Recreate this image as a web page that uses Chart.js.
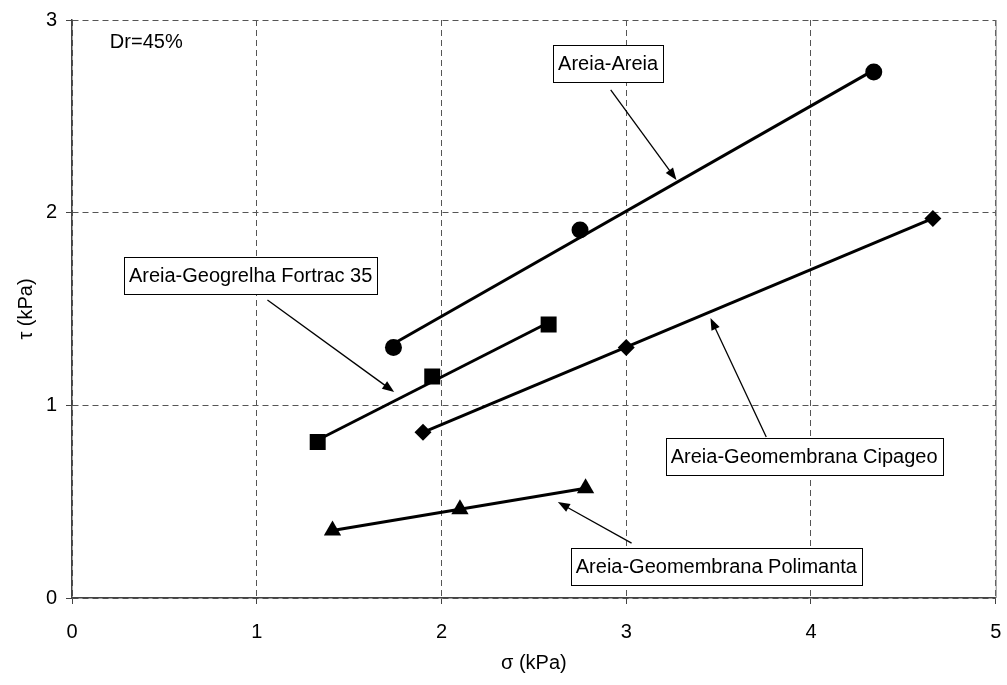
<!DOCTYPE html>
<html>
<head>
<meta charset="utf-8">
<script src="https://cdn.jsdelivr.net/npm/chart.js@4/dist/chart.umd.min.js"></script>
<style>
    body { margin: 0; background: #fff; }
    #wrap { width: 1007px; height: 685px; }
</style>
</head>
<body>
<div id="wrap"><canvas id="tauChart" width="1007" height="685"></canvas></div>
<script>
// pontos medidos (sigma, tau) em kPa
const areiaSigma = [1.74, 2.75, 4.34];
const areiaTau = [1.30, 1.91, 2.73];
const fortracSigma = [1.33, 1.95, 2.58];
const fortracTau = [0.81, 1.15, 1.42];
const cipageoSigma = [1.90, 3.00, 4.66];
const cipageoTau = [0.86, 1.30, 1.97];
const polimantaSigma = [1.41, 2.10, 2.78];
const polimantaTau = [0.35, 0.46, 0.57];

// linhas de tendencia (extremos)
const areiaFitSigma = [1.74, 4.34];
const areiaFitTau = [1.32, 2.74];
const fortracFitSigma = [1.33, 2.58];
const fortracFitTau = [0.82, 1.43];
const cipageoFitSigma = [1.90, 4.66];
const cipageoFitTau = [0.86, 1.97];
const polimantaFitSigma = [1.41, 2.78];
const polimantaFitTau = [0.35, 0.57];

const xTicks = [0, 1, 2, 3, 4, 5];
const yTicks = [0, 1, 2, 3];

const FONT = "'Liberation Sans', Arial, sans-serif";

function pts(xs, ys) {
    return xs.map((x, i) => ({ x: x, y: ys[i] }));
}

function markerSet(label, xs, ys, style, radius) {
    return {
        label: label,
        data: pts(xs, ys),
        showLine: false,
        pointStyle: style,
        pointRadius: radius,
        pointHoverRadius: radius,
        pointBackgroundColor: '#000',
        pointBorderColor: '#000',
        pointBorderWidth: 0,
        order: 0
    };
}

function fitSet(label, xs, ys) {
    return {
        label: label,
        data: pts(xs, ys),
        showLine: true,
        borderColor: '#000',
        borderWidth: 3,
        pointRadius: 0,
        fill: false,
        order: 1
    };
}

// caixas de texto com setas (posicoes em unidades do grafico)
const notes = [
    { text: 'Areia-Areia', cx: 2.902, cy: 2.772, from: [2.916, 2.637], to: [3.272, 2.170] },
    { text: 'Areia-Geogrelha Fortrac 35', cx: 0.967, cy: 1.674, from: [1.058, 1.547], to: [1.744, 1.069] },
    { text: 'Areia-Geomembrana Cipageo', cx: 3.963, cy: 0.734, from: [3.758, 0.836], to: [3.456, 1.453] },
    { text: 'Areia-Geomembrana Polimanta', cx: 3.488, cy: 0.166, from: [3.029, 0.285], to: [2.630, 0.498] }
];

const notesPlugin = {
    id: 'notes',
    afterDatasetsDraw(chart) {
        const ctx = chart.ctx;
        const xs = chart.scales.x, ys = chart.scales.y;
        const area = chart.chartArea;
        ctx.save();
        // borda direita continua
        ctx.strokeStyle = '#888';
        ctx.lineWidth = 1;
        ctx.beginPath();
        ctx.moveTo(area.right + 0.5, area.top);
        ctx.lineTo(area.right + 0.5, area.bottom);
        ctx.stroke();

        ctx.font = '20px ' + FONT;
        ctx.fillStyle = '#000';
        ctx.textBaseline = 'middle';
        ctx.textAlign = 'left';
        ctx.fillText('Dr=45%', xs.getPixelForValue(0.205), ys.getPixelForValue(2.881));

        notes.forEach(n => {
            const x1 = xs.getPixelForValue(n.from[0]), y1 = ys.getPixelForValue(n.from[1]);
            const x2 = xs.getPixelForValue(n.to[0]), y2 = ys.getPixelForValue(n.to[1]);
            const ang = Math.atan2(y2 - y1, x2 - x1);
            const head = 12, half = 4.5;
            ctx.strokeStyle = '#000';
            ctx.lineWidth = 1.3;
            ctx.beginPath();
            ctx.moveTo(x1, y1);
            ctx.lineTo(x2 - Math.cos(ang) * head * 0.8, y2 - Math.sin(ang) * head * 0.8);
            ctx.stroke();
            ctx.beginPath();
            ctx.moveTo(x2, y2);
            ctx.lineTo(x2 - Math.cos(ang) * head - Math.sin(ang) * half, y2 - Math.sin(ang) * head + Math.cos(ang) * half);
            ctx.lineTo(x2 - Math.cos(ang) * head + Math.sin(ang) * half, y2 - Math.sin(ang) * head - Math.cos(ang) * half);
            ctx.closePath();
            ctx.fillStyle = '#000';
            ctx.fill();

            const cx = xs.getPixelForValue(n.cx), cy = ys.getPixelForValue(n.cy);
            const w = ctx.measureText(n.text).width + 10, h = 37;
            ctx.fillStyle = '#fff';
            ctx.fillRect(Math.round(cx - w / 2), Math.round(cy - h / 2), Math.round(w), h);
            ctx.strokeStyle = '#000';
            ctx.lineWidth = 1;
            ctx.strokeRect(Math.round(cx - w / 2) + 0.5, Math.round(cy - h / 2) + 0.5, Math.round(w), h);
            ctx.fillStyle = '#000';
            ctx.textAlign = 'center';
            ctx.fillText(n.text, cx, cy + 1);
        });
        ctx.restore();
    }
};

const ctx = document.getElementById('tauChart').getContext('2d');
new Chart(ctx, {
    type: 'scatter',
    data: {
        datasets: [
            markerSet('Areia-Areia', areiaSigma, areiaTau, 'circle', 8.5),
            markerSet('Areia-Geogrelha Fortrac 35', fortracSigma, fortracTau, 'rect', 11.3),
            markerSet('Areia-Geomembrana Cipageo', cipageoSigma, cipageoTau, 'rectRot', 8.5),
            markerSet('Areia-Geomembrana Polimanta', polimantaSigma, polimantaTau, 'triangle', 10),
            fitSet('tendencia Areia-Areia', areiaFitSigma, areiaFitTau),
            fitSet('tendencia Fortrac', fortracFitSigma, fortracFitTau),
            fitSet('tendencia Cipageo', cipageoFitSigma, cipageoFitTau),
            fitSet('tendencia Polimanta', polimantaFitSigma, polimantaFitTau)
        ]
    },
    options: {
        responsive: false,
        animation: false,
        layout: { padding: { left: 0, right: 6, top: 20, bottom: 0 } },
        plugins: {
            legend: { display: false },
            tooltip: { enabled: false }
        },
        scales: {
            x: {
                type: 'linear',
                min: 0,
                max: 5,
                afterBuildTicks: scale => { scale.ticks = xTicks.map(v => ({ value: v })); },
                afterFit: scale => {
                    scale.height = 87;
                    scale.paddingLeft = 0;
                    scale.paddingRight = 0;
                },
                grid: { color: '#555', lineWidth: 1, tickLength: 6, tickColor: '#444' },
                border: { display: true, color: '#444', width: 1.5, dash: [6, 4] },
                ticks: { color: '#000', padding: 16, font: { family: FONT, size: 20 } },
                title: {
                    display: true,
                    text: 'σ (kPa)',
                    color: '#000',
                    font: { family: FONT, size: 20 },
                    padding: { top: 0, bottom: 10 }
                }
            },
            y: {
                type: 'linear',
                min: 0,
                max: 3,
                afterBuildTicks: scale => { scale.ticks = yTicks.map(v => ({ value: v })); },
                afterFit: scale => {
                    scale.width = 72;
                    scale.paddingTop = 0;
                    scale.paddingBottom = 0;
                },
                grid: { color: '#555', lineWidth: 1, tickLength: 6, tickColor: '#444' },
                border: { display: true, color: '#444', width: 1.5, dash: [6, 4] },
                ticks: { color: '#000', padding: 9, font: { family: FONT, size: 20 } },
                title: {
                    display: true,
                    text: 'τ (kPa)',
                    color: '#000',
                    font: { family: FONT, size: 20 },
                    padding: { top: 14, bottom: 0 }
                }
            }
        }
    },
    plugins: [notesPlugin]
});
</script>
</body>
</html>
